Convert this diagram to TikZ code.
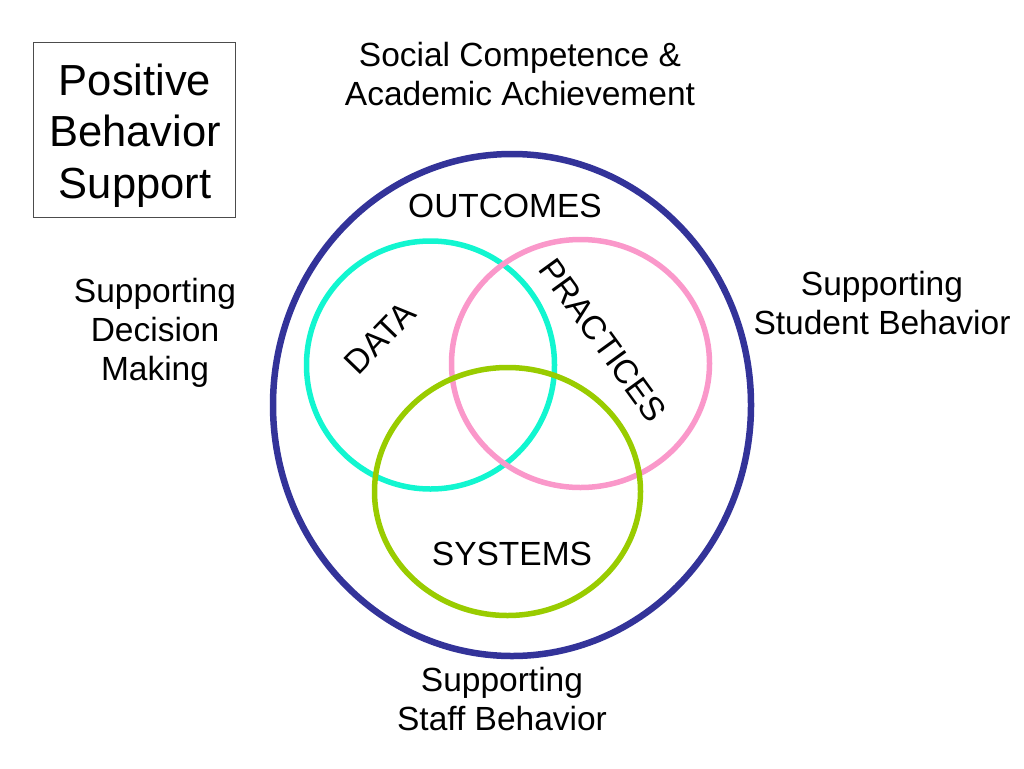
\documentclass[tikz,border=0pt]{standalone}
\usepackage{fontspec}
\setmainfont{Liberation Sans}
\usepackage{tikz}
\definecolor{ringnavy}{RGB}{51,51,153}
\definecolor{ringcyan}{RGB}{18,246,208}
\definecolor{ringpink}{RGB}{250,152,202}
\definecolor{ringgreen}{RGB}{153,204,0}
\tikzset{ring/.style = {line width=#1},
         lbl/.style = {inner sep=0pt, align=center,
                       font=\fontsize{33.5}{39}\selectfont}}

\begin{document}
\begin{tikzpicture}[x=1pt, y=-1pt]
      \useasboundingbox (0, 0) rectangle (1024, 768);

      \draw [ring=6.5pt, ringnavy] (512, 405) ellipse (239pt and 251pt);
      \draw [ring=5.5pt, ringcyan] (430.5, 365) ellipse (124pt and 124pt);
      \draw [ring=5.5pt, ringpink] (580.5, 363.5) ellipse (129pt and 124pt);
      \draw [ring=5.5pt, ringgreen] (507.5, 491.5) ellipse (133pt and 124pt);

      % title box
      \draw [black!70, line width=1pt] (33, 43) rectangle (235, 217);
      \node (pbs) [lbl, anchor=base, font=\fontsize{43.5}{51.5}\selectfont]
            at (135, 198) {Positive\\Behavior\\Support};

      \node (goal) [lbl, anchor=base] at (520, 105)
            {Social Competence \&\\Academic Achievement};
      \node (decision) [lbl, anchor=base] at (155, 380)
            {Supporting\\Decision\\Making};
      \node (student) [lbl, anchor=base] at (882, 334)
            {Supporting\\Student Behavior};
      \node (staff) [lbl, anchor=base] at (502, 730)
            {Supporting\\Staff Behavior};

      \node (outcomes) [lbl, anchor=base] at (505, 217) {OUTCOMES};
      \node (data) [lbl, rotate=46] at (380, 338) {DATA};
      \node (practices) [lbl, rotate=-54] at (603, 340) {PRACTICES};
      \node (systems) [lbl, anchor=base] at (512, 565) {SYSTEMS};
    \end{tikzpicture}
\end{document}
